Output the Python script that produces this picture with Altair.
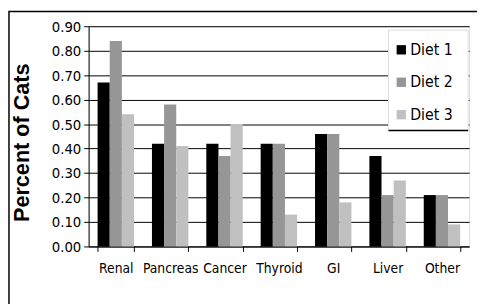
import altair as alt
import pandas as pd

categories = ["Renal", "Pancreas", "Cancer", "Thyroid", "GI", "Liver", "Other"]
diets = ["Diet 1", "Diet 2", "Diet 3"]
diet1 = [0.67, 0.42, 0.42, 0.42, 0.46, 0.37, 0.21]
diet2 = [0.84, 0.58, 0.37, 0.42, 0.46, 0.21, 0.21]
diet3 = [0.54, 0.41, 0.50, 0.13, 0.18, 0.27, 0.09]
colors = ["#000000", "#969696", "#c0c0c0"]
y_ticks = [0.0, 0.1, 0.2, 0.3, 0.4, 0.5, 0.6, 0.7, 0.8, 0.9]

rows = []
for d, vals in zip(diets, [diet1, diet2, diet3]):
    for c, v in zip(categories, vals):
        rows.append({"Category": c, "Diet": d, "Value": v})
df = pd.DataFrame(rows)

W, H = 387, 224
NARROW = "'Liberation Sans Narrow', 'Arial Narrow', 'DejaVu Sans Condensed', 'Liberation Sans', sans-serif"

bars = alt.Chart(df).mark_bar().encode(
    x=alt.X("Category:N", sort=categories, title=None,
            scale=alt.Scale(paddingInner=0.33, paddingOuter=0.165),
            axis=alt.Axis(labelAngle=0, tickBand="extent", domainColor="black",
                          tickColor="black", tickSize=5, labelPadding=10,
                          labelFont=NARROW, labelFontSize=14, labelColor="black",
                          grid=False)),
    xOffset=alt.XOffset("Diet:N", sort=diets, scale=alt.Scale(paddingInner=0, paddingOuter=0)),
    y=alt.Y("Value:Q", title="Percent of Cats",
            scale=alt.Scale(domain=[0, 0.9], nice=False),
            axis=alt.Axis(values=y_ticks, format=".2f", grid=True, gridColor="black",
                          gridOpacity=1, domainColor="black", tickColor="black",
                          tickSize=5, labelFont=NARROW, labelFontSize=15,
                          labelColor="black", labelPadding=3,
                          titleFont="Liberation Sans", titleFontSize=22,
                          titleFontWeight="bold", titleColor="black",
                          titleY=118, titlePadding=18)),
    color=alt.Color("Diet:N", sort=diets,
                    scale=alt.Scale(domain=diets, range=colors),
                    legend=alt.Legend(title=None, orient="none", legendX=310, legendY=16,
                                      symbolType="square", symbolSize=90,
                                      symbolStrokeWidth=0, symbolOpacity=1,
                                      labelFont=NARROW, labelFontSize=16,
                                      labelColor="black", labelOffset=1,
                                      rowPadding=17, padding=0)),
)

legend_box = alt.Chart().mark_rect(fill="white", stroke="#dddddd", strokeWidth=1).encode(
    x=alt.value(305), x2=alt.value(386), y=alt.value(4), y2=alt.value(106)
)
legend_line = alt.Chart().mark_rule(color="black", strokeWidth=1.5).encode(
    x=alt.value(305), x2=alt.value(386), y=alt.value(106)
)
border = alt.Chart().mark_rect(fill=None, stroke="black", strokeWidth=1.5).encode(
    x=alt.value(-81), x2=alt.value(600), y=alt.value(-15), y2=alt.value(500)
)

chart = alt.layer(legend_box, legend_line, bars, border).properties(
    width=W, height=H,
    autosize=alt.AutoSizeParams(type="none"),
    padding={"left": 82, "top": 16, "right": 8, "bottom": 56},
).configure_view(stroke=None).configure(background="white")

chart.save("out.html", embed_options={"renderer": "svg", "actions": False})
